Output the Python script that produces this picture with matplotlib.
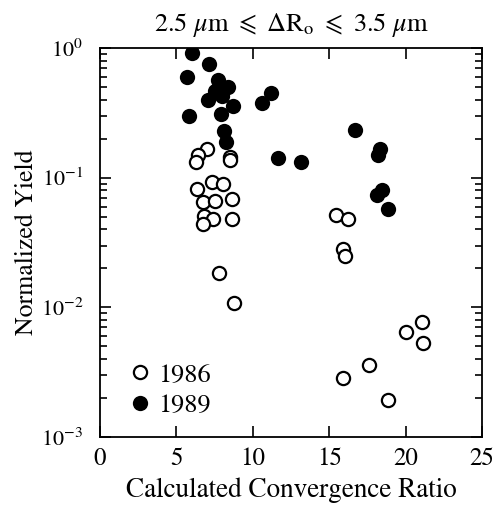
import matplotlib
matplotlib.use("Agg")
import matplotlib.pyplot as plt
from matplotlib.ticker import LogLocator, NullFormatter

plt.rcParams['font.family'] = ['STIXGeneral', 'DejaVu Serif']
plt.rcParams['mathtext.fontset'] = 'stix'

# 1986 shots (open circles)
x_1986 = [6.98, 6.39, 6.26, 8.48, 8.52, 7.31, 8.07, 6.33, 8.62, 6.76, 7.53,
          6.83, 7.41, 6.76, 8.66, 7.79, 8.79, 15.45, 16.25, 15.88, 16.03,
          21.05, 20.03, 21.16, 17.62, 15.92, 18.87]
y_1986 = [0.168, 0.149, 0.132, 0.145, 0.136, 0.092, 0.090, 0.082, 0.068, 0.065, 0.066,
          0.051, 0.048, 0.044, 0.048, 0.0185, 0.0108, 0.052, 0.048, 0.028, 0.025,
          0.0077, 0.0065, 0.0053, 0.0036, 0.00285, 0.00194]

# 1989 shots (filled circles)
x_1989 = [6.04, 7.15, 5.67, 7.74, 8.36, 7.09, 7.96, 7.53, 8.72, 7.92, 5.82,
          8.13, 8.25, 10.58, 11.17, 11.67, 13.15, 16.69, 18.32, 18.21,
          18.44, 18.11, 18.87]
y_1989 = [0.91, 0.75, 0.60, 0.57, 0.50, 0.40, 0.43, 0.47, 0.36, 0.31, 0.30,
          0.23, 0.19, 0.38, 0.45, 0.143, 0.132, 0.235, 0.168, 0.149,
          0.080, 0.073, 0.057]

fig = plt.figure(figsize=(4.95, 5.12), dpi=100)
ax = fig.add_axes([0.202, 0.1465, 0.772, 0.7595])

ax.plot(x_1986, y_1986, 'o', ms=9.5, mfc='white', mec='black', mew=1.6,
        label='1986', linestyle='none')
ax.plot(x_1989, y_1989, 'o', ms=11, mfc='black', mec='black', mew=0,
        label='1989', linestyle='none')

ax.set_yscale('log')
ax.set_xlim(0, 25)
ax.set_ylim(1e-3, 1)
ax.set_xticks([0, 5, 10, 15, 20, 25])
ax.yaxis.set_major_locator(LogLocator(base=10, numticks=10))
ax.yaxis.set_minor_locator(LogLocator(base=10, subs=range(2, 10), numticks=10))
ax.yaxis.set_minor_formatter(NullFormatter())

ax.tick_params(which='both', direction='in', top=True, right=True, width=1.2)
ax.tick_params(which='major', length=8)
ax.tick_params(which='minor', length=5)
ax.tick_params(axis='x', labelsize=18, pad=7)
ax.tick_params(axis='y', labelsize=16, pad=12)
for s in ax.spines.values():
    s.set_linewidth(1.3)

ax.set_xlabel('Calculated Convergence Ratio', fontsize=19.5, labelpad=5)
ax.set_ylabel('Normalized Yield', fontsize=18.5, labelpad=1)
ax.set_title(r'2.5 $\mu$m $\leqslant$ $\Delta$R$_\mathrm{o}$ $\leqslant$ 3.5 $\mu$m',
             fontsize=19, pad=12)

ax.legend(loc='lower left', frameon=False, fontsize=19, handletextpad=0.1,
          borderaxespad=0.0, labelspacing=0.22, handlelength=1.2,
          bbox_to_anchor=(0.035, 0.022))

fig.savefig('out.png', dpi=100)
